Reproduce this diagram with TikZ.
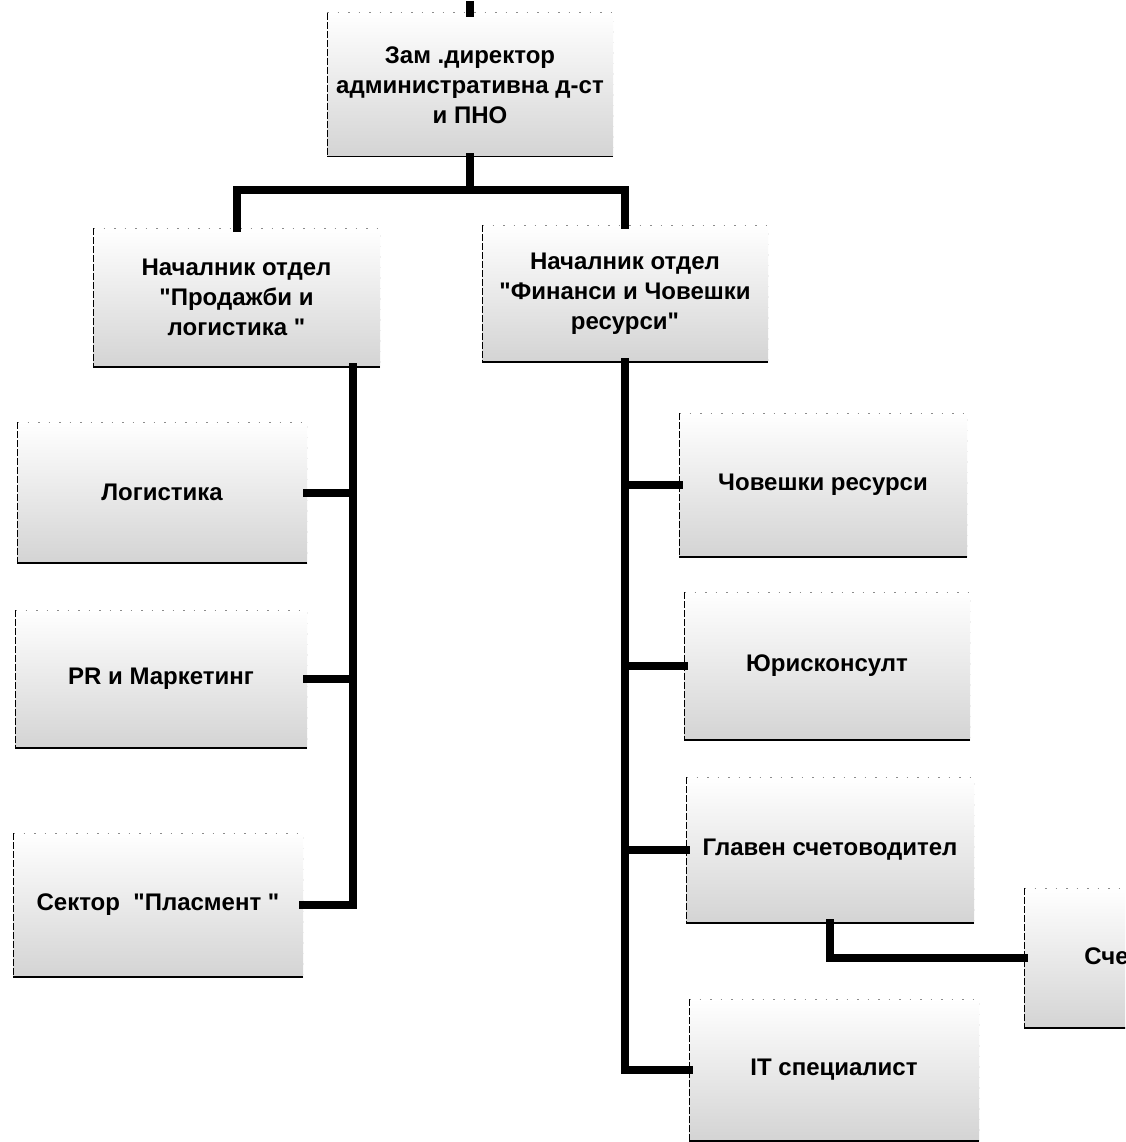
\documentclass[tikz,border=0pt]{standalone}
\usepackage{fontspec}
\setmainfont{Liberation Sans}[Ligatures=TeXOff]
\begin{document}
\begin{tikzpicture}[x=1pt,y=-1pt,
  orgbox/.style={rectangle, inner sep=0pt, align=center,
    font=\bfseries\fontsize{24}{30}\selectfont,
    top color=white, middle color=white, bottom color=black!17,
    path picture={
      \draw[black!45, line width=1pt, dash pattern=on 1.5pt off 9pt]
        (path picture bounding box.north west) -- (path picture bounding box.north east)
        -- (path picture bounding box.south east);
      \draw[black, line width=2pt, dash pattern=on 7pt off 2pt]
        (path picture bounding box.north west) -- (path picture bounding box.south west);
      \draw[black, line width=2.4pt]
        (path picture bounding box.south west) -- (path picture bounding box.south east);
    }},
  link/.style={line width=8pt, line cap=rect, line join=miter, black}
]
\useasboundingbox (0,0) rectangle (1125,1142);
\clip (0,0) rectangle (1125,1142);

% boxes
\node[orgbox, minimum width=286pt, minimum height=144pt] (top) at (470,85)
  {Зам .директор\\административна д-ст\\и ПНО};
\node[orgbox, minimum width=287pt, minimum height=139pt] (sales) at (236.5,297.5)
  {Началник отдел\\"Продажби и\\логистика "};
\node[orgbox, minimum width=286pt, minimum height=137pt] (fin) at (625,293.5)
  {Началник отдел\\"Финанси и Човешки\\ресурси"};
\node[orgbox, minimum width=290pt, minimum height=141pt] (log) at (162,492.5) {Логистика};
\node[orgbox, minimum width=292pt, minimum height=138pt] (pr) at (161,679) {PR и Маркетинг};
\node[orgbox, minimum width=290pt, minimum height=144pt] (sec) at (158,905) {Сектор \ "Пласмент "};
\node[orgbox, minimum width=288pt, minimum height=144pt] (hr) at (823,485) {Човешки ресурси};
\node[orgbox, minimum width=286pt, minimum height=148pt] (law) at (827,666) {Юрисконсулт};
\node[orgbox, minimum width=288pt, minimum height=146pt] (chief) at (830,850) {Главен счетоводител};
\node[orgbox, minimum width=290pt, minimum height=140pt] (acc) at (1169,958) {Счетоводител};
\node[orgbox, minimum width=290pt, minimum height=142pt] (it) at (834,1070) {IT специалист};

% connectors
\coordinate (above) at (470,5);
\draw[link] (above) -- (top.north);
\draw[link] (top.south) -- ++(0,33) coordinate (tj) -| (sales.north);
\draw[link] (tj) -| (fin.north);

\coordinate (lspine) at (353,367);
\draw[link] (lspine) |- (sec.east);
\draw[link] (log.east) -- (log.east -| lspine);
\draw[link] (pr.east) -- (pr.east -| lspine);

\draw[link] (fin.south) |- (it.west);
\draw[link] (hr.west) -- (hr.west -| fin.south);
\draw[link] (law.west) -- (law.west -| fin.south);
\draw[link] (chief.west) -- (chief.west -| fin.south);

\draw[link] (chief.south) |- (acc.west);
\end{tikzpicture}
\end{document}
